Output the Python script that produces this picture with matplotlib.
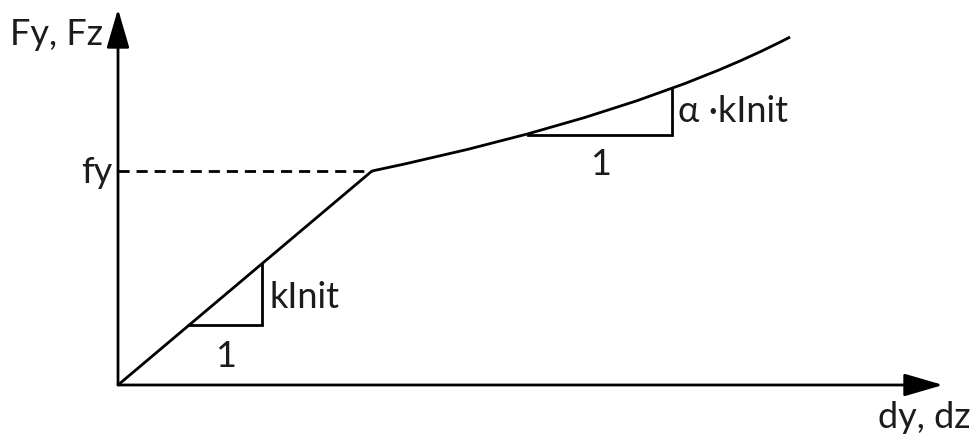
import matplotlib
matplotlib.use("Agg")
import matplotlib.pyplot as plt
from matplotlib.path import Path
from matplotlib.patches import PathPatch

# Bilinear force-displacement law (normalised: yield point at (1, 1))
ELASTIC_X = [0.0, 1.0]
ELASTIC_Y = [0.0, 1.0]

# post-yield hardening branch: start, control point, end (quadratic Bezier)
HARDEN_X = [1.0, 2.055, 2.646]
HARDEN_Y = [1.0, 1.262, 1.626]

FY_LEVEL = 1.0

# slope triangles: (x0, x1, y_base, y_top)
TRI_ELASTIC = (0.28, 0.567, 0.28, 0.567)
TRI_HARDEN = (1.614, 2.181, 1.168, 1.388)

X_AXIS_END = 3.248
Y_AXIS_END = 1.757

LABEL_Y_AXIS = "Fy, Fz"
LABEL_X_AXIS = "dy, dz"
LABEL_FY = "fy"
LABEL_K = "kInit"
LABEL_ALPHA_K = "\u03b1 \u00b7kInit"
LABEL_ONE = "1"

plt.rcParams['font.family'] = ['Lato', 'DejaVu Sans']
TXT = dict(fontsize=26, color='#1c1c1c')
LW = 2.0

fig = plt.figure(figsize=(9.77, 4.39), dpi=100)
ax = fig.add_axes([0, 0, 1, 1])
ax.set_xlim(-0.4646, 3.3819)
ax.set_ylim(-0.2477, 1.8037)
ax.axis('off')

# axes with arrowheads
arrow = dict(arrowstyle='-|>,head_length=2.4,head_width=0.7', mutation_scale=10,
             lw=LW, color='black', shrinkA=0, shrinkB=0)
ax.annotate("", xy=(X_AXIS_END, 0), xytext=(0, 0), arrowprops=arrow)
ax.annotate("", xy=(0, Y_AXIS_END), xytext=(0, 0), arrowprops=arrow)

# elastic branch
ax.plot(ELASTIC_X, ELASTIC_Y, color='black', lw=LW, solid_capstyle='butt')

# hardening branch
verts = list(zip(HARDEN_X, HARDEN_Y))
path = Path(verts, [Path.MOVETO, Path.CURVE3, Path.CURVE3])
ax.add_patch(PathPatch(path, facecolor='none', edgecolor='black', lw=LW))

# yield level
ax.plot([0, ELASTIC_X[1]], [FY_LEVEL, FY_LEVEL], color='black', lw=LW,
        dashes=(4, 2.5))

# slope triangles
for x0, x1, yb, yt in (TRI_ELASTIC, TRI_HARDEN):
    ax.plot([x0, x1, x1], [yb, yb, yt], color='black', lw=LW,
            solid_joinstyle='miter')

# labels
ax.text(-0.425, 1.593, LABEL_Y_AXIS, ha='left', va='baseline', **TXT)
ax.text(2.992, -0.196, LABEL_X_AXIS, ha='left', va='baseline', **TXT)
ax.text(-0.024, 0.949, LABEL_FY, ha='right', va='baseline', **TXT)
ax.text(0.598, 0.364, LABEL_K, ha='left', va='baseline', **TXT)
ax.text(0.425, 0.089, LABEL_ONE, ha='center', va='baseline', **TXT)
ax.text(2.205, 1.234, LABEL_ALPHA_K, ha='left', va='baseline', **TXT)
ax.text(1.898, 0.986, LABEL_ONE, ha='center', va='baseline', **TXT)

fig.savefig("out.png", dpi=100)
